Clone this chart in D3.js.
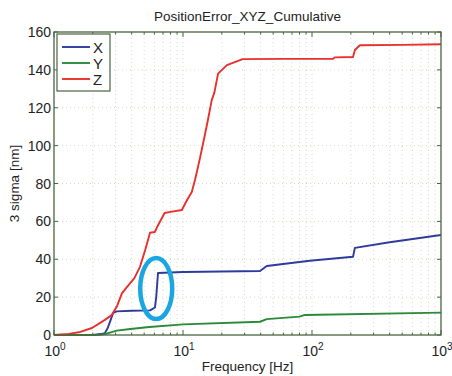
<!DOCTYPE html>
<html>
<head>
<meta charset="utf-8">
<script src="https://cdn.jsdelivr.net/npm/d3@7"></script>
<style>
  body { margin: 0; background: #fff; }
  svg text { font-family: "Liberation Sans", Arial, sans-serif; fill: #222; }
</style>
</head>
<body>
<div id="chart"></div>
<script>
// Series (frequency in Hz, 3 sigma in nm)
const xFreq = [1, 2, 2.3, 2.48, 2.62, 2.75, 2.87, 3.05, 4, 5.55, 6.06, 6.2, 6.4, 10, 20, 39.5, 44.6, 96, 208, 215, 400, 1000];
const xVals = [0, 0, 0.5, 1, 4, 8, 11.5, 12.5, 12.8, 13, 14.5, 20, 32.7, 33.3, 33.5, 33.8, 36.4, 39.2, 41.3, 46, 49, 52.8];

const yFreq = [1, 2, 2.3, 2.48, 2.8, 3.07, 3.9, 5.5, 10, 39.5, 44.6, 80, 88, 1000];
const yVals = [0, 0, 0.2, 0.5, 1.5, 2.3, 3.2, 4.2, 5.6, 7, 8.4, 9.7, 10.6, 11.8];

const zFreq = [1, 1.3, 1.6, 1.97, 2.48, 2.8, 3.07, 3.36, 3.7, 4.2, 4.64, 5.1, 5.55, 6.06, 6.3, 7.2, 8, 9.8, 10.7, 11.7, 12.4, 13.5, 14.5, 15.6, 16.7, 17.5, 18.7, 21.9, 29, 60, 145, 150, 208, 215, 235, 500, 1000];
const zVals = [0, 0.6, 1.6, 3.7, 8, 10.5, 15, 22, 25.5, 30, 36, 45, 54, 54.4, 57, 64.4, 65, 66, 71, 75.5, 82, 93, 103, 113.5, 124, 128, 138, 142.5, 145.7, 145.8, 145.8, 146.6, 146.8, 150.5, 153, 153.2, 153.5];

const seriesNames = ["X", "Y", "Z"];
const seriesColors = ["#2e3a9c", "#2b8a3a", "#e8302c"];
const yTicks = [0, 20, 40, 60, 80, 100, 120, 140, 160];
const xTicks = [1, 10, 100, 1000];

const W = 452, H = 376;
const margin = { left: 54, right: 11, top: 32, bottom: 41 };

const svg = d3.select("#chart").append("svg")
  .attr("width", W).attr("height", H);

const x = d3.scaleLog().domain([1, 1000]).range([margin.left, W - margin.right]);
const y = d3.scaleLinear().domain([0, 160]).range([H - margin.bottom, margin.top]);

const frameColor = "#4b6440";
const gridColor = "#c3d6bb";

// grid: minor + major decades on x, majors on y
const minorX = [];
for (let d = 1; d < 1000; d *= 10) for (let k = 2; k <= 9; k++) minorX.push(d * k);

const grid = svg.append("g");
grid.selectAll("line.gx").data(xTicks.slice(1, -1).concat(minorX)).enter().append("line")
  .attr("x1", d => x(d)).attr("x2", d => x(d))
  .attr("y1", y(0)).attr("y2", y(160))
  .attr("stroke", gridColor).attr("stroke-width", 0.8).attr("stroke-dasharray", "1,3");
grid.selectAll("line.gy").data(yTicks.slice(1, -1)).enter().append("line")
  .attr("x1", x(1)).attr("x2", x(1000))
  .attr("y1", d => y(d)).attr("y2", d => y(d))
  .attr("stroke", gridColor).attr("stroke-width", 0.8).attr("stroke-dasharray", "1,3");

// lines
const line = d3.line().x(d => x(d[0])).y(d => y(d[1]));
const series = [
  d3.zip(xFreq, xVals),
  d3.zip(yFreq, yVals),
  d3.zip(zFreq, zVals)
];
svg.append("g").selectAll("path").data(series).enter().append("path")
  .attr("d", line)
  .attr("fill", "none")
  .attr("stroke", (d, i) => seriesColors[i])
  .attr("stroke-width", 1.9)
  .attr("stroke-linejoin", "round");

// frame
svg.append("rect")
  .attr("x", x(1)).attr("y", y(160))
  .attr("width", x(1000) - x(1)).attr("height", y(0) - y(160))
  .attr("fill", "none").attr("stroke", frameColor).attr("stroke-width", 1.3);

// inward ticks on all sides
const tk = svg.append("g").attr("stroke", frameColor).attr("stroke-width", 1);
yTicks.forEach(v => {
  tk.append("line").attr("x1", x(1)).attr("x2", x(1) + 4).attr("y1", y(v)).attr("y2", y(v));
  tk.append("line").attr("x1", x(1000)).attr("x2", x(1000) - 4).attr("y1", y(v)).attr("y2", y(v));
});
xTicks.forEach(v => {
  tk.append("line").attr("x1", x(v)).attr("x2", x(v)).attr("y1", y(0)).attr("y2", y(0) - 5);
  tk.append("line").attr("x1", x(v)).attr("x2", x(v)).attr("y1", y(160)).attr("y2", y(160) + 5);
});
minorX.forEach(v => {
  tk.append("line").attr("x1", x(v)).attr("x2", x(v)).attr("y1", y(0)).attr("y2", y(0) - 2.5);
  tk.append("line").attr("x1", x(v)).attr("x2", x(v)).attr("y1", y(160)).attr("y2", y(160) + 2.5);
});

// tick labels
svg.append("g").selectAll("text").data(yTicks).enter().append("text")
  .attr("x", x(1) - 3).attr("y", d => y(d) + 5)
  .attr("text-anchor", "end").attr("font-size", 14)
  .text(d => d);

const xl = svg.append("g").selectAll("text").data(xTicks).enter().append("text")
  .attr("x", d => x(d) + 1).attr("y", y(0) + 21)
  .attr("text-anchor", "middle").attr("font-size", 14);
xl.append("tspan").text("10");
xl.append("tspan").attr("dy", -6).attr("font-size", 10).text(d => Math.round(Math.log10(d)));

// titles
svg.append("text").attr("x", (x(1) + x(1000)) / 2).attr("y", 21)
  .attr("text-anchor", "middle").attr("font-size", 13.5)
  .text("PositionError_XYZ_Cumulative");
svg.append("text").attr("x", (x(1) + x(1000)) / 2).attr("y", 371)
  .attr("text-anchor", "middle").attr("font-size", 13.5)
  .text("Frequency [Hz]");
svg.append("text")
  .attr("transform", `translate(19,${(y(0) + y(160)) / 2}) rotate(-90)`)
  .attr("text-anchor", "middle").attr("font-size", 13.5)
  .text("3 sigma [nm]");

// legend
const lg = svg.append("g").attr("transform", "translate(57,34)");
lg.append("rect").attr("width", 53).attr("height", 57)
  .attr("fill", "#fff").attr("stroke", frameColor).attr("stroke-width", 1.2);
seriesNames.forEach((n, i) => {
  const yy = 13 + i * 16;
  lg.append("line").attr("x1", 5).attr("x2", 33).attr("y1", yy).attr("y2", yy)
    .attr("stroke", seriesColors[i]).attr("stroke-width", 1.9);
  lg.append("text").attr("x", 36).attr("y", yy + 5.5).attr("font-size", 15).text(n);
});

// highlight ellipse around the X step
svg.append("ellipse")
  .attr("cx", x(6.2)).attr("cy", y(24.5))
  .attr("rx", 16).attr("ry", 30.5)
  .attr("fill", "none").attr("stroke", "#1aa6e0").attr("stroke-width", 4.5);
</script>
</body>
</html>
